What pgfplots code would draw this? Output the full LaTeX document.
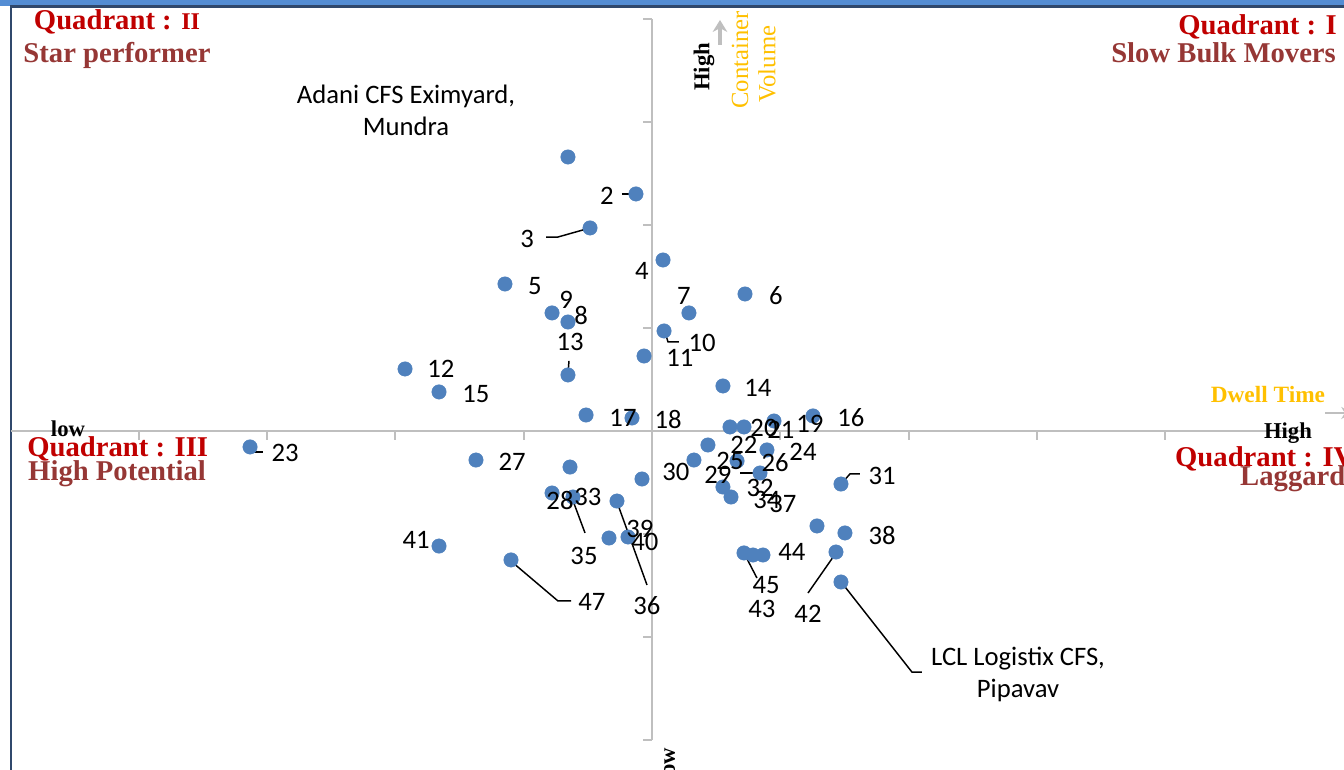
\documentclass[border=0pt]{standalone}
\usepackage{pgfplots}
\pgfplotsset{compat=1.18}
\usepackage{pgfplotstable}
\usetikzlibrary{arrows.meta}
\usepackage{fontspec}
\setmainfont{Carlito}
\newfontfamily\qfont{Liberation Serif}
\definecolor{dotblue}{RGB}{79,129,189}
\definecolor{qred}{RGB}{192,0,0}
\definecolor{qdark}{RGB}{150,55,53}
\definecolor{gold}{RGB}{255,192,0}
\definecolor{axgray}{RGB}{191,191,191}
\definecolor{band}{RGB}{84,141,212}
\definecolor{framec}{RGB}{48,72,108}
\tikzset{
    leader/.style={black, line width=1.1pt},
    qtitle/.style={font=\qfont\bfseries\fontsize{21.5}{24}\selectfont, inner sep=0pt},
}

% terminals: dwell time (x) vs container volume (y), centred units
\pgfplotstableread{
x y
-0.655 2.660
-0.125 2.301
-0.483 1.971
0.086 1.660
-1.146 1.427
0.725 1.330
0.288 1.146
-0.655 1.058
-0.779 1.146
0.094 0.971
-0.062 0.728
-1.925 0.602
-0.655 0.544
0.553 0.437
-1.660 0.379
1.255 0.146
-0.514 0.155
-0.156 0.126
0.951 0.097
0.608 0.039
0.717 0.039
0.436 -0.136
-3.133 -0.155
0.896 -0.184
0.327 -0.282
0.663 -0.291
-1.372 -0.282
-0.639 -0.350
0.842 -0.408
-0.078 -0.466
1.473 -0.515
0.553 -0.544
-0.779 -0.602
-0.616 -0.641
0.616 -0.641
-0.273 -0.680
1.286 -0.922
1.504 -0.990
-0.335 -1.039
-0.187 -1.029
-1.660 -1.117
0.717 -1.184
0.787 -1.204
0.865 -1.204
1.434 -1.175
-1.099 -1.252
1.473 -1.466
}\dots

% label positions
\pgfplotstableread{
x y lab
-0.351 2.282 2
-0.974 1.864 3
-0.078 1.553 4
-0.912 1.408 5
0.966 1.311 6
0.249 1.311 7
-0.553 1.126 8
-0.670 1.272 9
0.390 0.854 10
0.218 0.709 11
-1.645 0.602 12
-0.639 0.864 13
0.826 0.417 14
-1.372 0.359 15
1.551 0.126 16
-0.226 0.126 17
0.125 0.107 18
1.231 0.068 19
0.873 0.029 20
1.005 0.010 21
0.717 -0.136 22
-2.860 -0.214 23
1.177 -0.204 24
0.608 -0.291 25
0.959 -0.311 26
-1.091 -0.301 27
-0.717 -0.670 28
0.514 -0.427 29
0.187 -0.398 30
1.793 -0.437 31
0.842 -0.553 32
-0.499 -0.641 33
0.896 -0.670 34
-0.530 -1.214 35
-0.039 -1.699 36
1.021 -0.709 37
1.793 -1.010 38
-0.094 -0.951 39
-0.055 -1.078 40
-1.839 -1.058 41
1.216 -1.777 42
0.857 -1.728 43
1.091 -1.175 44
0.889 -1.495 45
-0.468 -1.660 47
}\labels

\begin{document}
\begin{tikzpicture}
\begin{axis}[
    width=1008pt, height=577.5pt,
    scale only axis,
    xmin=-5.082, xmax=5.394,
    ymin=-3.291, ymax=4.184,
    hide axis,
    clip=false,
]
% frame of the chart
\fill[band] (rel axis cs:0,1) rectangle (rel axis cs:1,0.9922);
\draw[framec, line width=1.8pt] (axis cs:-4.996,-3.4) -- (axis cs:-4.996,4.121) -- (axis cs:5.6,4.121);
% axes through the middle
\draw[axgray, line width=1.5pt] (axis cs:-5,0) -- (axis cs:5.13,0);
\draw[axgray, line width=1.5pt] (axis cs:0,-3) -- (axis cs:0,4);
\pgfplotsinvokeforeach{-4,-3,-2,-1,1,2,3,4,5}{
  \draw[axgray, line width=1.5pt] (axis cs:#1,0) -- ++(0pt,-6.75pt);}
\pgfplotsinvokeforeach{-3,-2,-1,1,2,3,4}{
  \draw[axgray, line width=1.5pt] (axis cs:0,#1) -- ++(-6.75pt,0pt);}

\addplot[only marks, mark=*, mark size=5.4pt, mark options={fill=dotblue, draw=dotblue}] table {\dots};

\addplot[leader] coordinates {(-0.234,2.301) (-0.125,2.301)};
\addplot[leader] coordinates {(-0.826,1.883) (-0.733,1.883) (-0.483,1.971)};
\addplot[leader] coordinates {(0.101,0.961) (0.125,0.864) (0.210,0.864)};
\addplot[leader] coordinates {(-0.647,0.680) (-0.655,0.553)};
\addplot[leader] coordinates {(-3.110,-0.204) (-3.032,-0.204)};
\addplot[leader] coordinates {(0.686,-0.408) (0.826,-0.408)};
\addplot[leader] coordinates {(1.481,-0.505) (1.543,-0.417) (1.621,-0.417)};
\addplot[leader] coordinates {(-0.624,-0.650) (-0.522,-0.990)};
\addplot[leader] coordinates {(-0.273,-0.689) (-0.039,-1.495)};
\addplot[leader] coordinates {(-1.091,-1.272) (-0.733,-1.650) (-0.631,-1.650)};
\addplot[leader] coordinates {(0.725,-1.204) (0.818,-1.427)};
\addplot[leader] coordinates {(1.434,-1.184) (1.216,-1.573)};
\addplot[leader] coordinates {(1.481,-1.476) (2.026,-2.340) (2.104,-2.340)};

\addplot[draw=none, nodes near coords, point meta=explicit symbolic,
    nodes near coords align=center,
    every node near coord/.append style={font=\fontsize{20}{23}\selectfont, inner sep=0pt, text=black}]
    table[meta=lab] {\labels};

\node[align=center, font=\fontsize{20}{24}\selectfont] at (axis cs:-1.917,3.117) {Adani CFS Eximyard,\\Mundra};
\node[align=center, font=\fontsize{20}{24}\selectfont] at (axis cs:2.853,-2.359) {LCL Logistix CFS,\\Pipavav};

% quadrant titles
\node[qtitle, text=qred] at (axis cs:-4.170,3.971) {Quadrant : {\fontsize{18}{20}\selectfont II}};
\node[qtitle, text=qdark] at (axis cs:-4.170,3.641) {Star performer};
\node[qtitle, text=qred, anchor=west] at (axis cs:4.100,3.922) {Quadrant : I};
\node[qtitle, text=qdark, anchor=west] at (axis cs:3.578,3.670) {Slow Bulk Movers};
\node[qtitle, text=qred, anchor=west] at (axis cs:-4.871,-0.175) {Quadrant : III};
\node[qtitle, text=qdark, anchor=west] at (axis cs:-4.864,-0.417) {High Potential};
\node[qtitle, text=qred, anchor=west] at (axis cs:4.076,-0.272) {Quadrant : IV};
\node[qtitle, text=qdark, anchor=west] at (axis cs:4.583,-0.466) {Laggard};

% axis captions
\node[font=\qfont\bfseries\fontsize{17}{20}\selectfont, inner sep=0pt] at (axis cs:-4.552,0.019) {low};
\node[font=\qfont\bfseries\fontsize{17}{20}\selectfont, inner sep=0pt] at (axis cs:4.957,-0.019) {High};
\node[font=\qfont\bfseries\fontsize{17.5}{20}\selectfont, text=gold, inner sep=0pt] at (axis cs:4.801,0.350) {Dwell Time};
\draw[axgray, line width=2pt, -{Stealth[length=8pt,width=9pt]}] (axis cs:5.246,0.175) -- (axis cs:5.456,0.175);
\node[rotate=90, font=\qfont\bfseries\fontsize{17}{20}\selectfont, inner sep=0pt] at (axis cs:0.405,3.534) {High};
\node[rotate=90, font=\qfont\fontsize{18.5}{20}\selectfont, text=gold, inner sep=0pt] at (axis cs:0.686,3.602) {Container};
\node[rotate=90, font=\qfont\fontsize{18.5}{20}\selectfont, text=gold, inner sep=0pt] at (axis cs:0.896,3.563) {Volume};
\draw[axgray, line width=2.5pt, -{Stealth[length=9pt,width=11pt]}] (axis cs:0.530,3.748) -- (axis cs:0.530,3.990);
\node[rotate=90, font=\qfont\bfseries\fontsize{17}{20}\selectfont, inner sep=0pt] at (axis cs:0.117,-3.243) {low};
\end{axis}
\pgfresetboundingbox
\useasboundingbox (current axis.south west) rectangle (current axis.north east);
\end{tikzpicture}
\end{document}
